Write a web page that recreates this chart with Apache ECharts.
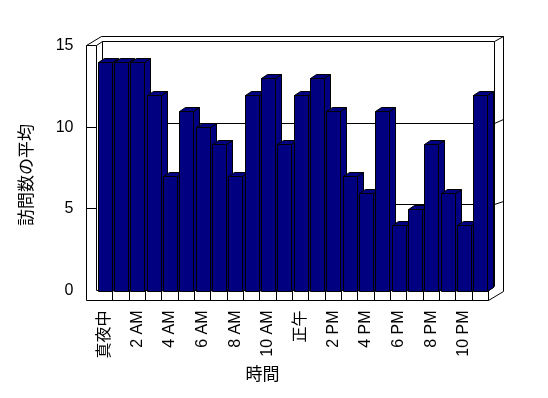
<!DOCTYPE html>
<html><head><meta charset="utf-8">
<script src="https://cdn.jsdelivr.net/npm/echarts@6/dist/echarts.min.js"></script>
<style>html,body{margin:0;padding:0;background:#fff}#c{width:548px;height:398px}</style>
</head><body><div id="c"></div>
<script>
const hours = ['真夜中','1 AM','2 AM','3 AM','4 AM','5 AM','6 AM','7 AM','8 AM','9 AM','10 AM','11 AM','正午','1 PM','2 PM','3 PM','4 PM','5 PM','6 PM','7 PM','8 PM','9 PM','10 PM','11 PM'];
const visits = [14,14,14,12,7,11,10,9,7,12,13,9,12,13,11,7,6,11,4,5,9,6,4,12];
const valueTicks = [0,5,10,15];
const yAxisTitle = '訪問数の平均';
const xAxisTitle = '時間';

const FONT = "'Liberation Sans','Noto Sans CJK JP',sans-serif";
const NAVY = '#000080';
const DX = 6, DY = -4;        // bar depth / inner back plane offset
const ODX = 14.5, ODY = -9.5; // outer wall depth
const snap = v => Math.round(v - 0.5) + 0.5;
function ln(x1,y1,x2,y2){
  return {type:'line', shape:{x1:snap(x1),y1:snap(y1),x2:snap(x2),y2:snap(y2)}, style:{stroke:'#000', lineWidth:1, fill:null}};
}

function renderFrame(params, api){
  const bw = api.size([1,0])[0];
  const n = hours.length;
  const L = api.coord([0,0])[0] - bw/2;
  const R = api.coord([n-1,0])[0] + bw/2;
  const yv = v => api.coord([0,v])[1];
  const vMax = valueTicks[valueTicks.length-1];
  const yTop = yv(vMax);
  const y0 = yv(0);
  const OL = L - 10;
  const OB = y0 + 10;
  const ch = [];
  // back wall (inner face)
  ch.push(ln(L+DX, yTop+DY, R+DX, yTop+DY));
  ch.push(ln(L+DX, yTop+DY, L+DX, y0+DY));
  ch.push(ln(R+DX, yTop+DY, R+DX, y0+DY));
  valueTicks.slice(1,-1).forEach(v=>{
    ch.push(ln(L+DX, yv(v)+DY, R+DX, yv(v)+DY));
    ch.push(ln(R+DX, yv(v)+DY, R+ODX, yv(v)+DY-3.5));
    ch.push(ln(OL, yv(v), L, yv(v)));
  });
  // left wall
  ch.push(ln(OL, yTop, OL, OB));
  ch.push(ln(OL, yTop, L, yTop));
  ch.push(ln(L, yTop, L, y0));
  ch.push(ln(L, yTop, L+DX, yTop+DY));
  ch.push(ln(OL, yTop, OL+ODX, yTop+ODY));
  // outer back / right
  ch.push(ln(OL+ODX, yTop+ODY, R+ODX, yTop+ODY));
  ch.push(ln(R+ODX, yTop+ODY, R+ODX, OB+ODY));
  ch.push(ln(R+DX, yTop+DY, R+ODX, yTop+ODY));
  // floor
  ch.push(ln(L, y0, R, y0));
  ch.push(ln(OL, OB, R, OB));
  for(let i=1;i<=n;i++){ const x=L+i*bw; ch.push(ln(x, y0, x, OB)); }
  ch.push(ln(R, OB, R+ODX, OB+ODY));
  ch.push(ln(R, y0, R+DX, y0+DY));
  return {type:'group', children: ch};
}

function renderBar(params, api){
  const i = api.value(0), v = api.value(1);
  const c = api.coord([i, v]);
  const b = api.coord([i, 0]);
  const xl = Math.round(c[0]-7)+0.5, xr = Math.round(c[0]+7)+0.5;
  const yt = Math.round(c[1])+0.5, yb = Math.round(b[1])+0.5;
  const st = {fill: NAVY, stroke:'#000', lineWidth:1};
  return {type:'group', children:[
    {type:'polygon', shape:{points:[[xr,yt],[xr+DX,yt+DY],[xr+DX,yb+DY],[xr,yb]]}, style:st},
    {type:'polygon', shape:{points:[[xl,yt],[xr,yt],[xr+DX,yt+DY],[xl+DX,yt+DY]]}, style:st},
    {type:'rect', shape:{x:xl, y:yt, width:xr-xl, height:yb-yt}, style:st}
  ]};
}

const chart = echarts.init(document.getElementById('c'), null, {renderer:'canvas'});
chart.setOption({
  animation:false,
  backgroundColor:'#fff',
  textStyle:{fontFamily:FONT},
  grid:{left:96.5, right:59.5, top:45.5, bottom:107.5},
  xAxis:{type:'category', data:hours, boundaryGap:true,
    axisLine:{show:false}, axisTick:{show:false}, splitLine:{show:false},
    axisLabel:{interval:1, rotate:90, margin:20, fontSize:16, color:'#000', fontFamily:FONT, padding:[0,0,5,0]}},
  yAxis:{type:'value', min:0, max:15, interval:5,
    axisLine:{show:false}, axisTick:{show:false}, splitLine:{show:false},
    axisLabel:{margin:23, fontSize:16, color:'#000', fontFamily:FONT}},
  graphic:[
    {type:'text', x:26, y:175, rotation:Math.PI/2,
      style:{text:yAxisTitle, font:"17px 'Noto Sans CJK JP'", fill:'#000', align:'center', verticalAlign:'middle'}},
    {type:'text', x:262.5, y:374,
      style:{text:xAxisTitle, font:"17px 'Noto Sans CJK JP'", fill:'#000', align:'center', verticalAlign:'middle'}}
  ],
  series:[
    {type:'custom', name:'frame', data:[[0,0]], renderItem:renderFrame, clip:false, silent:true, z:1},
    {type:'custom', name:'訪問数の平均', data:visits.map((v,i)=>[i,v]), renderItem:renderBar, clip:false, z:2,
     encode:{x:0, y:1}}
  ]
});
</script></body></html>
